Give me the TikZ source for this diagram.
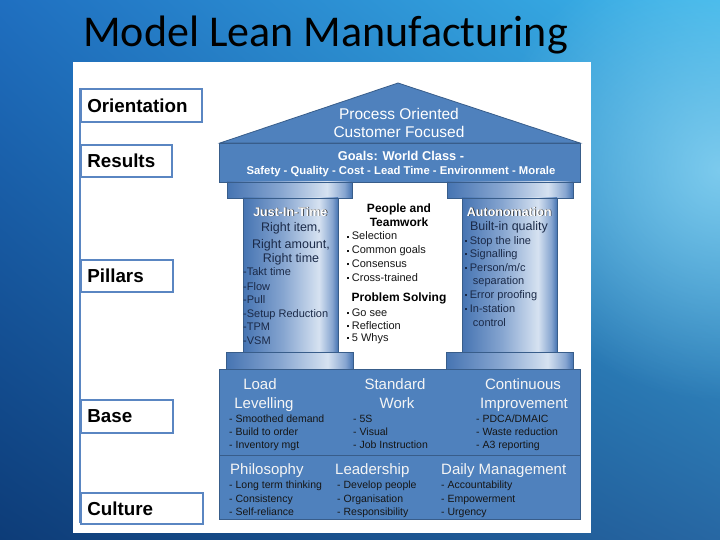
\documentclass[tikz,border=0pt]{standalone}
\usepackage{fontspec}
\setmainfont{Liberation Sans}
\newfontfamily\titlefont{Carlito}
\usetikzlibrary{fadings,shadings}
\definecolor{bgUL}{HTML}{1F6FC0}
\definecolor{bgUR}{HTML}{3BB6EA}
\definecolor{bgLL}{HTML}{0D3C78}
\definecolor{bgLR}{HTML}{2767A3}
\definecolor{glowc}{HTML}{8ED6F4}
\definecolor{labblue}{HTML}{5A86C2}
\definecolor{hblue}{HTML}{4F81BD}
\definecolor{hedge}{HTML}{385D8A}
\definecolor{pdark}{HTML}{4674B2}
\definecolor{pmid}{HTML}{86A5D0}
\definecolor{plight}{HTML}{D6E2F1}
\definecolor{ptext}{HTML}{1B2A48}
\definecolor{btext}{HTML}{161616}
\pgfdeclarehorizontalshading{pillarshade}{100bp}{color(0bp)=(pdark); color(25bp)=(pdark); color(46bp)=(pmid); color(65bp)=(plight); color(72bp)=(pmid); color(75bp)=(pdark); color(100bp)=(pdark)}
\tikzfading[name=glowfade, inner color=transparent!0, outer color=transparent!100]
\newcommand{\sqbul}{\rule[1.8pt]{2.6pt}{2.6pt}\hspace{2.6pt}}
\begin{document}
\begin{tikzpicture}[x=1pt,y=1pt,
  lab/.style={draw=labblue, line width=1.6pt, fill=white, anchor=north west, inner xsep=6.5pt, inner ysep=0pt, align=left, font=\fontsize{18.8}{20}\selectfont\bfseries},
  blk/.style={fill=hblue, draw=hedge, line width=0.8pt},
  pil/.style={shading=pillarshade, draw=hedge, line width=0.8pt},
  rooftxt/.style={text=white, inner sep=0pt, anchor=base, font=\fontsize{15.5}{18}\selectfont},
  goalA/.style={text=white, inner sep=0pt, anchor=base, font=\fontsize{12.8}{14}\selectfont\bfseries},
  goalB/.style={text=white, inner sep=0pt, anchor=base, font=\fontsize{11.3}{12}\selectfont\bfseries},
  pilhead/.style={text=white, inner sep=0pt, anchor=base, font=\fontsize{12.5}{14}\selectfont\bfseries},
  pilshadow/.style={text=black!85, inner sep=0pt, anchor=base, font=\fontsize{12.5}{14}\selectfont\bfseries},
  pilsub/.style={text=ptext, inner sep=0pt, anchor=base, font=\fontsize{12.5}{14}\selectfont},
  pilbul/.style={text=ptext, inner sep=0pt, anchor=base west, font=\fontsize{11}{13}\selectfont},
  midhead/.style={text=black, inner sep=0pt, anchor=base, font=\fontsize{12}{14}\selectfont\bfseries},
  midbul/.style={text=btext, inner sep=0pt, anchor=base west, font=\fontsize{11}{13}\selectfont},
  basehead/.style={text=white!96!black, inner sep=0pt, anchor=base, font=\fontsize{15}{17}\selectfont},
  basebul/.style={text=btext, inner sep=0pt, anchor=base west, font=\fontsize{10.5}{12}\selectfont}
]
\useasboundingbox (0,0) rectangle (720,-540);
% slide background
\shade[upper left=bgUL, upper right=bgUR, lower left=bgLL, lower right=bgLR] (0,0) rectangle (720,-540);
\fill[glowc, path fading=glowfade, opacity=0.8] (720,-170) circle (230);
% title
\node[anchor=base west, inner sep=0pt, text=black, font=\titlefont\fontsize{44}{50}\selectfont] (title) at (83,-47) {Model Lean Manufacturing};
% white picture area
\fill[white] (73,-62) rectangle (591,-533);
% left label column
\coordinate (lineTop) at (80,-88);
\coordinate (lineBot) at (80,-523);
\draw[labblue, line width=1.6pt] (lineTop) -- (lineBot);
\node[lab, text width=108pt, minimum height=33pt] (orient) at (80,-88) {Orientation};
\node[lab, text width=78pt, minimum height=32pt] (results) at (80,-144) {Results};
\node[lab, text width=79pt, minimum height=32pt] (pillars) at (80,-259) {Pillars};
\node[lab, text width=79pt, minimum height=33pt] (basel) at (80,-399) {Base};
\node[lab, text width=109pt, minimum height=31pt] (culture) at (80,-492) {Culture};
% house
\filldraw[blk] (220,-143) -- (398,-83) -- (580,-143) -- cycle;
\filldraw[blk] (219,-143) rectangle (580,-182);
\shadedraw[pil] (227,-182) rectangle (352,-198);
\shadedraw[pil] (447,-182) rectangle (573,-198);
\shadedraw[pil] (243,-198) rectangle (338,-352);
\shadedraw[pil] (462,-198) rectangle (557,-352);
\shadedraw[pil] (226,-352) rectangle (353,-369);
\shadedraw[pil] (446,-352) rectangle (573,-369);
\filldraw[blk] (219,-369) rectangle (580,-455);
\filldraw[blk] (219,-455) rectangle (580,-519);
% roof and goals
\node[rooftxt] (roof1) at (399,-119.5) {Process Oriented};
\node[rooftxt] (roof2) at (399,-137.5) {Customer Focused};
\node[goalA] (goal1) at (401,-160.5) {Goals: World Class -};
\node[goalB] (goal2) at (401,-175) {Safety - Quality - Cost - Lead Time - Environment - Morale};
% left pillar
\node[pilshadow] (jitsh) at (291,-216.8) {Just-In-Time};
\node[pilhead] (jit) at (290.3,-216) {Just-In-Time};
\node[pilsub] (jit1) at (291,-232) {Right item,};
\node[pilsub] (jit2) at (291,-248) {Right amount,};
\node[pilsub] (jit3) at (291,-262) {Right time};
\node[pilbul] (jb1) at (243,-275) {-Takt time};
\node[pilbul] (jb2) at (243,-290) {-Flow};
\node[pilbul] (jb3) at (243,-303) {-Pull};
\node[pilbul] (jb4) at (243,-317) {-Setup Reduction};
\node[pilbul] (jb5) at (243,-330) {-TPM};
\node[pilbul] (jb6) at (243,-344) {-VSM};
% middle
\node[midhead] (ppl1) at (399,-212) {People and};
\node[midhead] (ppl2) at (399,-226) {Teamwork};
\node[midbul] (mb1) at (346.5,-240) {\sqbul Selection};
\node[midbul] (mb2) at (346.5,-254) {\sqbul Common goals};
\node[midbul] (mb3) at (346.5,-267) {\sqbul Consensus};
\node[midbul] (mb4) at (346.5,-281) {\sqbul Cross-trained};
\node[midhead] (ps) at (399,-301) {Problem Solving};
\node[midbul] (mb5) at (346.5,-316) {\sqbul Go see};
\node[midbul] (mb6) at (346.5,-329) {\sqbul Reflection};
\node[midbul] (mb7) at (346.5,-341) {\sqbul 5 Whys};
% right pillar
\node[pilshadow] (autosh) at (510,-216.8) {Autonomation};
\node[pilhead] (auto) at (509.3,-216) {Autonomation};
\node[pilsub] (auto1) at (509,-230) {Built-in quality};
\node[pilbul] (ab1) at (464.5,-244) {\sqbul Stop the line};
\node[pilbul] (ab2) at (464.5,-257) {\sqbul Signalling};
\node[pilbul] (ab3) at (464.5,-271) {\sqbul Person/m/c};
\node[pilbul] (ab3b) at (472.7,-284) {separation};
\node[pilbul] (ab4) at (464.5,-298) {\sqbul Error proofing};
\node[pilbul] (ab5) at (464.5,-312) {\sqbul In-station};
\node[pilbul] (ab5b) at (472.7,-326) {control};
% base
\node[basehead] (ll1) at (260,-389) {Load};
\node[basehead] (ll2) at (264,-408) {Levelling};
\node[basehead] (sw1) at (395,-389) {Standard};
\node[basehead] (sw2) at (397,-408) {Work};
\node[basehead] (ci1) at (523,-389) {Continuous};
\node[basehead] (ci2) at (524,-408) {Improvement};
\node[basebul] (lb1) at (229,-422) {- Smoothed demand};
\node[basebul] (lb2) at (229,-435) {- Build to order};
\node[basebul] (lb3) at (229,-448) {- Inventory mgt};
\node[basebul] (sb1) at (353,-422) {- 5S};
\node[basebul] (sb2) at (353,-435) {- Visual};
\node[basebul] (sb3) at (353,-448) {- Job Instruction};
\node[basebul] (cb1) at (476,-422) {- PDCA/DMAIC};
\node[basebul] (cb2) at (476,-435) {- Waste reduction};
\node[basebul] (cb3) at (476,-448) {- A3 reporting};
% culture
\node[basehead, anchor=base west] (phil) at (230,-474) {Philosophy};
\node[basehead, anchor=base west] (lead) at (335,-474) {Leadership};
\node[basehead, anchor=base west] (daily) at (441,-474) {Daily Management};
\node[basebul] (pb1) at (229,-488) {- Long term thinking};
\node[basebul] (pb2) at (229,-502) {- Consistency};
\node[basebul] (pb3) at (229,-515) {- Self-reliance};
\node[basebul] (db1) at (337,-488) {- Develop people};
\node[basebul] (db2) at (337,-502) {- Organisation};
\node[basebul] (db3) at (337,-515) {- Responsibility};
\node[basebul] (mgb1) at (441,-488) {- Accountability};
\node[basebul] (mgb2) at (441,-502) {- Empowerment};
\node[basebul] (mgb3) at (441,-515) {- Urgency};
\end{tikzpicture}
\end{document}
